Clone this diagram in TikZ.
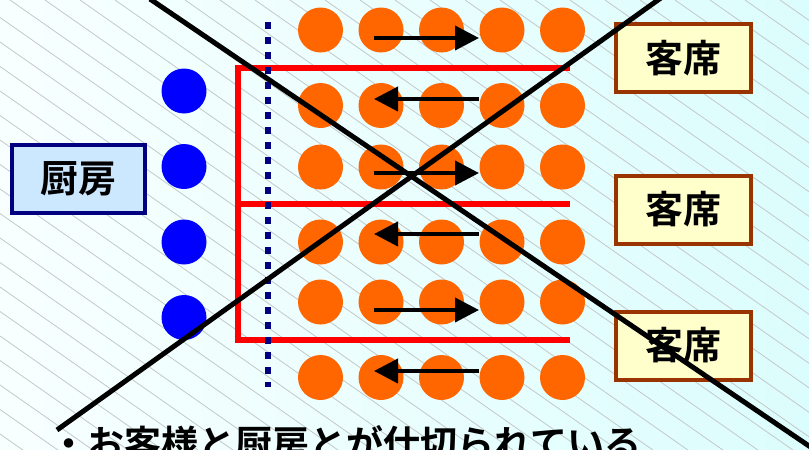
\documentclass[tikz,border=0pt]{standalone}
\usepackage{fontspec}
\newfontfamily\jp{Noto Sans CJK JP Bold}
\usetikzlibrary{arrows.meta}
\definecolor{bgL}{HTML}{F8FFFF}
\definecolor{bgR}{HTML}{DCFDFD}
\definecolor{hatchc}{HTML}{C4C8C8}
\definecolor{orng}{HTML}{FF6600}
\definecolor{navyc}{HTML}{000080}
\definecolor{kfill}{HTML}{CCE8FF}
\definecolor{sfill}{HTML}{FFFFCC}
\definecolor{sbord}{HTML}{993300}
\tikzset{
  hatch/.style={draw=hatchc, line width=0.8pt},
  bluedot/.style={circle, fill=blue, inner sep=0pt, minimum size=45pt},
  orgdot/.style={circle, fill=orng, inner sep=0pt, minimum size=45pt},
  arr/.style={line width=4pt, -{Triangle[length=24pt,width=24pt]}},
  redline/.style={draw=red, line width=6pt},
  dotline/.style={draw=navyc, line width=6.5pt, dash pattern=on 6.5pt off 8.5pt},
  crossline/.style={draw=black, line width=5pt},
  kbox/.style={draw=navyc, line width=4pt, fill=kfill, minimum width=133pt, minimum height=68pt, inner sep=0pt, font=\jp\fontsize{38}{40}\selectfont},
  sbox/.style={draw=sbord, line width=4pt, fill=sfill, minimum width=135pt, minimum height=68pt, inner sep=0pt, font=\jp\fontsize{38}{40}\selectfont},
  bottomtext/.style={anchor=base west, inner sep=0pt, font=\jp\fontsize{37}{40}\selectfont}
}
\begin{document}
\begin{tikzpicture}[x=1pt,y=-1pt]
\useasboundingbox (0,0) rectangle (809,450);
\shade[left color=bgL, right color=bgR] (0,0) rectangle (809,450);
\begin{scope}
  \clip (0,0) rectangle (809,450);
  \foreach \k in {-20,...,24} {
    \draw[hatch] ({10+35*\k},0) -- ({10+35*\k+700},490);
  }
\end{scope}
% blue dots
\foreach \i/\y in {1/91,2/166.5,3/242,4/317.5} {
  \node[bluedot] (b\i) at (184,\y) {};
}
% orange dots
\foreach \r/\y in {1/30,2/105.5,3/167,4/242,5/302,6/377.5} {
  \foreach \c/\x in {1/320.5,2/381,3/441.5,4/502,5/562.5} {
    \node[orgdot] (o\r\c) at (\x,\y) {};
  }
}
% red partition lines
\coordinate (rt) at (238,68);
\coordinate (rte) at (570,68);
\coordinate (rm) at (238,204);
\coordinate (rme) at (570,204);
\coordinate (rb) at (238,340);
\coordinate (rbe) at (570,340);
\draw[redline] (rte) -- (rt) -- (rb) -- (rbe);
\draw[redline] (rm) -- (rme);
% dotted line
\coordinate (dt) at (268,22);
\coordinate (db) at (268,387);
\draw[dotline] (dt) -- (db);
% arrows
\foreach \i/\y in {1/38,3/173,5/310} {
  \coordinate (as\i) at (374,\y);
  \coordinate (ae\i) at (479,\y);
  \draw[arr] (as\i) -- (ae\i);
}
\foreach \i/\y in {2/99,4/234,6/371} {
  \coordinate (as\i) at (479,\y);
  \coordinate (ae\i) at (374,\y);
  \draw[arr] (as\i) -- (ae\i);
}
% boxes
\node[kbox] (kitchen) at (78.5,179) {厨房};
\node[sbox] (seat1) at (683.5,58) {客席};
\node[sbox] (seat2) at (683.5,209.5) {客席};
\node[sbox] (seat3) at (683.5,345.5) {客席};
% big cross
\coordinate (x1a) at (150,-1);
\coordinate (x1b) at (812,448);
\coordinate (x2a) at (57,430);
\coordinate (x2b) at (665,-5);
\draw[crossline] (x1a) -- (x1b);
\draw[crossline] (x2a) -- (x2b);
% bottom text
\node[bottomtext] (note) at (50,457) {・お客様と厨房とが仕切られている};
\end{tikzpicture}
\end{document}
